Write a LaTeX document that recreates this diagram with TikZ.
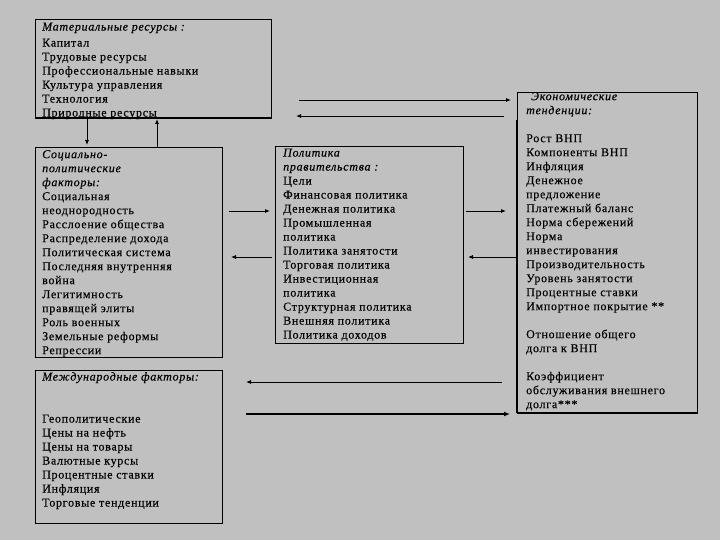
\documentclass[tikz,border=0pt]{standalone}
\usepackage{fontspec}
\setmainfont{Liberation Serif}[LetterSpace=6,FakeBold=0.3]
\usetikzlibrary{arrows.meta}
\definecolor{bg}{HTML}{C0C0C0}
\begin{document}
\begin{tikzpicture}[x=1pt,y=-1pt,
  box/.style={draw=black, line width=1pt, fill=bg, anchor=north west, inner sep=0pt},
  txt/.style={anchor=north west, inner sep=0pt, align=left, font=\fontsize{12}{14}\selectfont},
  arr/.style={-{Latex[length=5pt,width=4pt]}, line width=0.8pt},
  thickarr/.style={-{Latex[length=6pt,width=5pt]}, line width=1.5pt}]
\fill[bg] (0,0) rectangle (720,540);
\useasboundingbox (0,0) rectangle (720,540);
% boxes
\node[box, minimum width=236pt, minimum height=98pt] (mat) at (35,19) {};
\node[box, minimum width=187pt, minimum height=210pt] (soc) at (35,147) {};
\node[box, minimum width=188pt, minimum height=197pt] (pol) at (275,146) {};
\node[box, minimum width=180pt, minimum height=320pt] (eco) at (517,92) {};
\node[box, minimum width=187pt, minimum height=153pt] (intl) at (35,370) {};
\draw[line width=2pt] (mat.south west) -- (mat.south east);
\draw[line width=2pt] (eco.south west) -- (eco.south east);
\draw[line width=2pt] ([yshift=-28pt]eco.north west) -- (eco.south west);
% texts
\node[txt] (matt) at (42,22.5) {\textit{Материальные ресурсы :}\\[2pt]Капитал\\Трудовые ресурсы\\Профессиональные навыки\\Культура управления\\Технология\\Природные ресурсы};
\node[txt] (soct) at (42,150) {\textit{Социально-}\\\textit{политические}\\\textit{факторы:}\\Социальная\\неоднородность\\Расслоение общества\\Распределение дохода\\Политическая система\\Последняя внутренняя\\война\\Легитимность\\правящей элиты\\Роль военных\\Земельные реформы\\Репрессии};
\node[txt] (polt) at (283,148.5) {\textit{Политика}\\\textit{правительства :}\\Цели\\Финансовая политика\\Денежная политика\\Промышленная\\политика\\Политика занятости\\Торговая политика\\Инвестиционная\\политика\\Структурная политика\\Внешняя политика\\Политика доходов};
\node[txt] (ecot) at (526,92) {\hspace{5pt}\textit{Экономические}\\\textit{тенденции:}\\[14pt]Рост ВНП\\Компоненты ВНП\\Инфляция\\Денежное\\предложение\\Платежный баланс\\Норма сбережений\\Норма\\инвестирования\\Производительность\\Уровень занятости\\Процентные ставки\\Импортное покрытие **\\[14pt]Отношение общего\\долга к ВНП\\[14pt]Коэффициент\\обслуживания внешнего\\долга***};
\node[txt] (intlt) at (42,372) {\textit{Международные факторы:}\\[28pt]Геополитические\\Цены на нефть\\Цены на товары\\Валютные курсы\\Процентные ставки\\Инфляция\\Торговые тенденции};
% connectors
\draw[arr, shorten >=2pt] (mat.south -| 87,0) -- (soc.north -| 87,0);
\draw[arr, shorten >=1pt] (soc.north -| 157,0) -- (mat.south -| 157,0);
\draw[arr, shorten <=27pt, shorten >=6pt] (mat.east |- 0,100) -- (eco.west |- 0,100);
\draw[arr, shorten <=13pt, shorten >=24pt] (eco.west |- 0,116) -- (mat.east |- 0,116);
\draw[arr, shorten <=6pt, shorten >=5pt] (soc.east |- 0,211) -- (pol.west |- 0,211);
\draw[arr, shorten <=3pt, shorten >=8pt] (pol.west |- 0,257) -- (soc.east |- 0,257);
\draw[arr, shorten <=2pt, shorten >=11pt] (pol.east |- 0,211) -- (eco.west |- 0,211);
\draw[arr, shorten >=4pt] (eco.west |- 0,257) -- (pol.east |- 0,257);
\draw[arr, shorten <=15pt, shorten >=23pt] (eco.west |- 0,382) -- (intl.east |- 0,382);
\draw[thickarr, shorten <=23pt, shorten >=7pt] (intl.east |- 0,414) -- (eco.west |- 0,414);
\end{tikzpicture}
\end{document}
